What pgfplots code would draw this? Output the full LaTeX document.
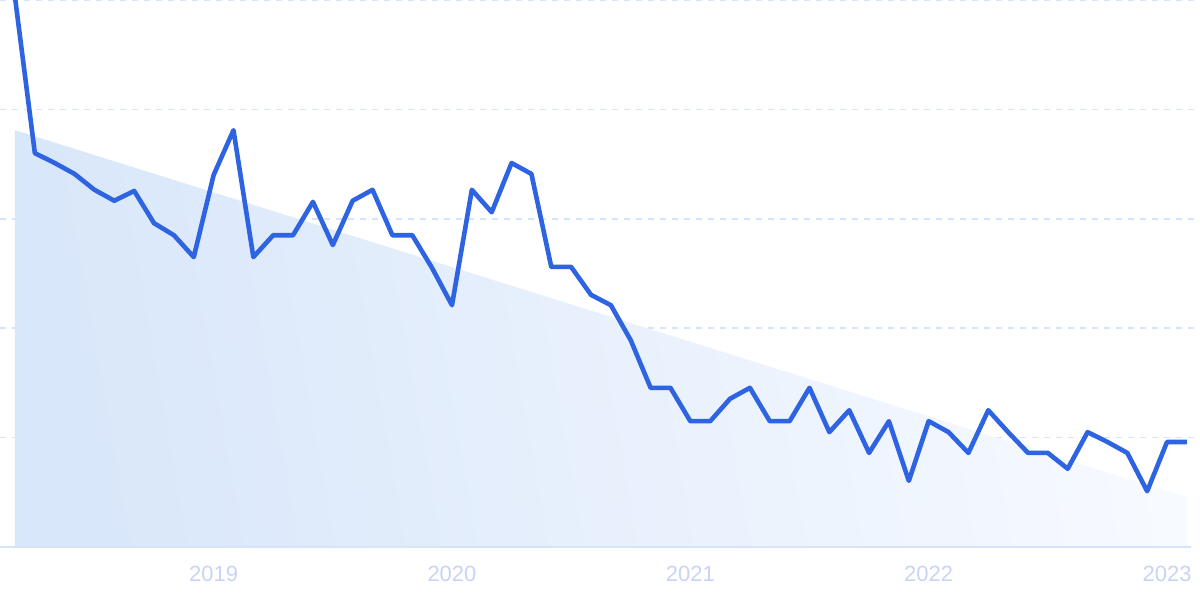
\documentclass[border=0pt]{standalone}
\usepackage{pgfplots}
\pgfplotsset{compat=1.18}
\usepackage{fontspec}
\setmainfont{Liberation Sans}
\definecolor{lineblue}{HTML}{2E63E1}
\definecolor{gridblue}{HTML}{D2E5FB}
\definecolor{ticklab}{HTML}{C8D4F4}
\definecolor{fillA}{HTML}{D9E7FA}
\definecolor{fillB}{HTML}{F7FAFF}
\begin{document}
\begin{tikzpicture}
\begin{axis}[
  at={(0,0)}, anchor=south west,
  scale only axis, width=600pt, height=273.5pt,
  xmin=-0.755, xmax=59.66, ymin=0, ymax=100,
  axis line style={draw=none},
  major tick length=0pt,
  xtick={10,22,34,46,58},
  xticklabels={2019,2020,2021,2022,2023},
  xticklabel style={anchor=base, yshift=-17.5pt, inner sep=0pt, font=\fontsize{11pt}{13pt}\selectfont, text=ticklab},
  ytick={20,40,60,80,100},
  yticklabels={},
  ymajorgrids,
  grid style={gridblue, line width=0.75pt, dash pattern=on 3pt off 3pt},
  clip=false,
]
\addplot[draw=none, left color=fillA, right color=fillB, shading angle=100] coordinates {(0,76.2) (59,9.1)} \closedcycle;
\draw[gridblue, line width=1pt] (axis cs:-0.755,0) -- (axis cs:59.2,0);
\addplot[lineblue, line width=2.3pt, line join=round, mark=none] coordinates {
(0,100.5) (1,72.0) (2,70.2) (3,68.2) (4,65.3) (5,63.3) (6,65.1) (7,59.2) (8,57.0) (9,53.0)
(10,68.0) (11,76.2) (12,53.0) (13,57.0) (14,57.0) (15,63.1) (16,55.2) (17,63.3) (18,65.3) (19,57.0)
(20,57.0) (21,51.0) (22,44.2) (23,65.3) (24,61.2) (25,70.2) (26,68.2) (27,51.2) (28,51.2) (29,46.1)
(30,44.2) (31,37.8) (32,29.1) (33,29.1) (34,23.0) (35,23.0) (36,27.1) (37,29.1) (38,23.0) (39,23.0)
(40,29.1) (41,21.0) (42,25.0) (43,17.2) (44,23.0) (45,12.1) (46,23.0) (47,21.0) (48,17.2) (49,25.0)
(50,21.0) (51,17.2) (52,17.2) (53,14.3) (54,21.0) (55,19.2) (56,17.2) (57,10.2) (58,19.2) (59,19.2)
};
\end{axis}
\pgfresetboundingbox
\path[use as bounding box] (0,-26pt) rectangle (600pt,273.5pt);
\end{tikzpicture}
\end{document}
